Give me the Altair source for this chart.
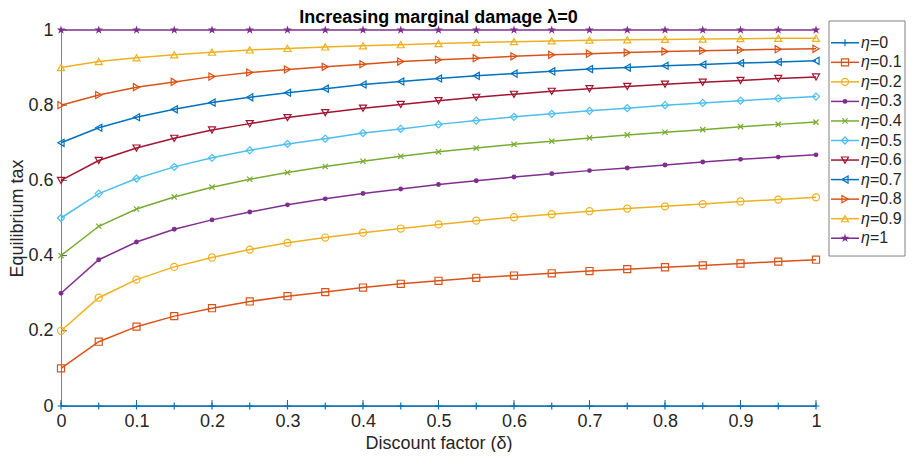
import altair as alt
import pandas as pd

# ---------------- data ----------------
delta = [0.00, 0.05, 0.10, 0.15, 0.20, 0.25, 0.30, 0.35, 0.40, 0.45, 0.50,
         0.55, 0.60, 0.65, 0.70, 0.75, 0.80, 0.85, 0.90, 0.95, 1.00]

eta_values = ["0", "0.1", "0.2", "0.3", "0.4", "0.5", "0.6", "0.7", "0.8", "0.9", "1"]

tax_eta_0 = [0.000, 0.000, 0.000, 0.000, 0.000, 0.000, 0.000, 0.000, 0.000, 0.000, 0.000,
             0.000, 0.000, 0.000, 0.000, 0.000, 0.000, 0.000, 0.000, 0.000, 0.000]
tax_eta_01 = [0.100, 0.171, 0.211, 0.239, 0.260, 0.278, 0.292, 0.303, 0.315, 0.325, 0.333,
              0.341, 0.347, 0.353, 0.359, 0.364, 0.369, 0.374, 0.379, 0.384, 0.389]
tax_eta_02 = [0.200, 0.288, 0.336, 0.370, 0.395, 0.416, 0.434, 0.448, 0.461, 0.472, 0.483,
              0.493, 0.502, 0.510, 0.518, 0.525, 0.531, 0.537, 0.544, 0.549, 0.555]
tax_eta_03 = [0.300, 0.389, 0.436, 0.470, 0.495, 0.516, 0.535, 0.551, 0.565, 0.577, 0.589,
              0.599, 0.609, 0.618, 0.626, 0.633, 0.641, 0.649, 0.656, 0.662, 0.668]
tax_eta_04 = [0.400, 0.478, 0.524, 0.556, 0.582, 0.603, 0.621, 0.637, 0.651, 0.664, 0.676,
              0.686, 0.696, 0.704, 0.713, 0.721, 0.728, 0.735, 0.743, 0.749, 0.755]
tax_eta_05 = [0.500, 0.565, 0.605, 0.636, 0.660, 0.680, 0.697, 0.711, 0.726, 0.737, 0.749,
              0.759, 0.769, 0.777, 0.785, 0.792, 0.800, 0.806, 0.812, 0.818, 0.823]
tax_eta_06 = [0.600, 0.653, 0.686, 0.712, 0.734, 0.751, 0.767, 0.780, 0.792, 0.802, 0.812,
              0.821, 0.829, 0.837, 0.844, 0.850, 0.856, 0.861, 0.866, 0.871, 0.875]
tax_eta_07 = [0.700, 0.740, 0.768, 0.789, 0.807, 0.821, 0.833, 0.844, 0.855, 0.863, 0.871,
              0.878, 0.884, 0.890, 0.896, 0.900, 0.905, 0.908, 0.912, 0.915, 0.918]
tax_eta_08 = [0.800, 0.827, 0.848, 0.862, 0.876, 0.887, 0.895, 0.902, 0.909, 0.916, 0.921,
              0.925, 0.930, 0.934, 0.937, 0.940, 0.943, 0.945, 0.947, 0.949, 0.950]
tax_eta_09 = [0.900, 0.916, 0.926, 0.934, 0.941, 0.947, 0.951, 0.955, 0.958, 0.961, 0.964,
              0.967, 0.969, 0.971, 0.973, 0.974, 0.975, 0.976, 0.977, 0.978, 0.978]
tax_eta_1 = [1.000, 1.000, 1.000, 1.000, 1.000, 1.000, 1.000, 1.000, 1.000, 1.000, 1.000,
             1.000, 1.000, 1.000, 1.000, 1.000, 1.000, 1.000, 1.000, 1.000, 1.000]

series = [tax_eta_0, tax_eta_01, tax_eta_02, tax_eta_03, tax_eta_04, tax_eta_05,
          tax_eta_06, tax_eta_07, tax_eta_08, tax_eta_09, tax_eta_1]

x_ticks = [0, 0.1, 0.2, 0.3, 0.4, 0.5, 0.6, 0.7, 0.8, 0.9, 1]
y_ticks = [0, 0.2, 0.4, 0.6, 0.8, 1]

# ---------------- styles ----------------
labels = ["η=" + e for e in eta_values]
colors = ["#0072BD", "#D95319", "#EDB120", "#7E2F8E", "#77AC30", "#4DBEEE",
          "#A2142F", "#0072BD", "#D95319", "#EDB120", "#7E2F8E"]
plus_path = "M-1,0L1,0M0,-1L0,1"
x_path = "M-0.75,-0.75L0.75,0.75M-0.75,0.75L0.75,-0.75"
star_path = ("M0,-1L0.225,-0.309L0.951,-0.309L0.363,0.118L0.588,0.809L0,0.382"
             "L-0.588,0.809L-0.363,0.118L-0.951,-0.309L-0.225,-0.309Z")
shapes = [plus_path, "square", "circle", "circle", x_path, "diamond",
          "triangle-down", "triangle-left", "triangle-right", "triangle-up", star_path]
hollow = [labels[i] for i in [0, 1, 2, 4, 5, 6, 7, 8, 9]]

rows = []
for lab, vals in zip(labels, series):
    for d, v in zip(delta, vals):
        rows.append({"label": lab, "delta": d, "tax": v})
df = pd.DataFrame(rows)

FONT = "Liberation Sans"
W, H = 755, 376
MSIZE = 50

x_enc = alt.X("delta:Q", scale=alt.Scale(domain=[0, 1], nice=False),
              axis=alt.Axis(values=x_ticks, format="~g", title="Discount factor (δ)",
                            labelPadding=6, titlePadding=4, labelFlush=False))
y_enc = alt.Y("tax:Q", scale=alt.Scale(domain=[0, 1], nice=False),
              axis=alt.Axis(values=y_ticks, format="~g", title="Equilibrium tax",
                            labelPadding=8, titlePadding=1, labelFlush=False))
color_enc = alt.Color("label:N", scale=alt.Scale(domain=labels, range=colors), legend=None)
shape_enc = alt.Shape("label:N", scale=alt.Scale(domain=labels, range=shapes), legend=None)

base = alt.Chart(df)

ytick_layer = alt.Chart(pd.DataFrame({"tax": y_ticks})).mark_rule(
    color="#5a5a5a", strokeWidth=1).encode(y=y_enc, x=alt.value(0), x2=alt.value(6))
xtick_layer = alt.Chart(pd.DataFrame({"delta": x_ticks})).mark_rule(
    color="#5a5a5a", strokeWidth=1).encode(x=x_enc, y=alt.value(H), y2=alt.value(H - 6))

lines = base.mark_line(strokeWidth=1.5).encode(x=x_enc, y=y_enc, color=color_enc)
pts_hollow = base.transform_filter(
    alt.FieldOneOfPredicate(field="label", oneOf=hollow)
).mark_point(filled=False, size=MSIZE, strokeWidth=1.2, opacity=1).encode(
    x=x_enc, y=y_enc, color=color_enc, shape=shape_enc)
pts_dot = base.transform_filter(alt.datum.label == labels[3]).mark_point(
    filled=True, size=24, opacity=1).encode(x=x_enc, y=y_enc, color=color_enc, shape=shape_enc)
pts_star = base.transform_filter(alt.datum.label == labels[10]).mark_point(
    filled=True, size=85, opacity=1).encode(x=x_enc, y=y_enc, color=color_enc, shape=shape_enc)

main = alt.layer(ytick_layer, xtick_layer, lines, pts_hollow, pts_dot, pts_star)

# ---------------- legend drawn as a layer ----------------
leg_df = pd.DataFrame({"label": labels, "num": ["=" + e for e in eta_values]})
leg = alt.Chart(leg_df)
y_leg = alt.Y("label:N", scale=alt.Scale(domain=labels, range=[3, 218], padding=0), axis=None)
LX = W + 13
leg_box = alt.Chart(pd.DataFrame({"a": [0]})).mark_rect(
    fill="white", stroke="#808080", strokeWidth=1).encode(
    x=alt.value(LX), x2=alt.value(LX + 76), y=alt.value(-9), y2=alt.value(226))
leg_rule = leg.mark_rule(strokeWidth=1.5).encode(
    y=y_leg, x=alt.value(LX + 2), x2=alt.value(LX + 30), color=color_enc)
leg_hollow = leg.transform_filter(
    alt.FieldOneOfPredicate(field="label", oneOf=hollow)
).mark_point(filled=False, size=MSIZE, strokeWidth=1.2, opacity=1).encode(
    y=y_leg, x=alt.value(LX + 16), color=color_enc, shape=shape_enc)
leg_dot = leg.transform_filter(alt.datum.label == labels[3]).mark_point(
    filled=True, size=24, opacity=1).encode(
    y=y_leg, x=alt.value(LX + 16), color=color_enc, shape=shape_enc)
leg_star = leg.transform_filter(alt.datum.label == labels[10]).mark_point(
    filled=True, size=85, opacity=1).encode(
    y=y_leg, x=alt.value(LX + 16), color=color_enc, shape=shape_enc)
leg_eta = leg.mark_text(align="left", baseline="middle", fontSize=16, font=FONT,
                        fontStyle="italic", color="#262626").encode(
    y=y_leg, x=alt.value(LX + 32), text=alt.value("η"))
leg_num = leg.mark_text(align="left", baseline="middle", fontSize=16, font=FONT,
                        color="#262626").encode(
    y=y_leg, x=alt.value(LX + 41), text="num:N")

legend = alt.layer(leg_box, leg_rule, leg_hollow, leg_dot, leg_star, leg_eta, leg_num)

chart = alt.layer(main, legend).resolve_scale(y="independent").properties(
    width=W, height=H, padding=0,
    title=alt.TitleParams("Increasing marginal damage λ=0", font=FONT, fontSize=18,
                          fontWeight="bold", color="#000000", anchor="middle",
                          frame="group", offset=-6),
).configure_view(stroke=None).configure_axis(
    labelFont=FONT, labelFontSize=18, labelColor="#262626",
    titleFont=FONT, titleFontSize=18, titleFontWeight="normal", titleColor="#262626",
    domainColor="#808080", domainWidth=1, ticks=False, grid=False,
)

chart.save("out.html", embed_options={"renderer": "svg", "actions": False})
